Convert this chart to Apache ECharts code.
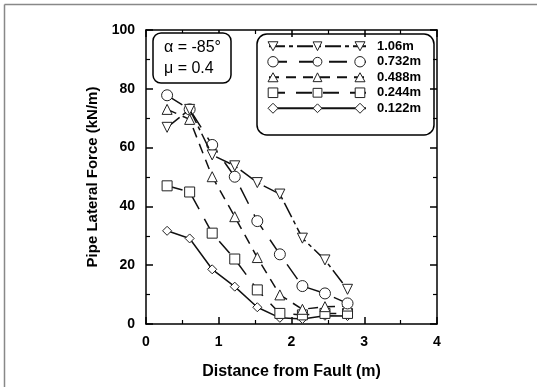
<!DOCTYPE html>
<html><head><meta charset="utf-8">
<script src="https://cdn.jsdelivr.net/npm/echarts@6/dist/echarts.min.js"></script>
<style>html,body{margin:0;padding:0;background:#fff}#c{width:537px;height:387px}</style>
</head><body><div id="c"></div>
<script>
const xValues = [0.29, 0.60, 0.91, 1.22, 1.53, 1.84, 2.15, 2.46, 2.77];
const seriesNames = ['1.06m', '0.732m', '0.488m', '0.244m', '0.122m'];
const s106 = [66.9, 73.0, 57.5, 53.8, 48.1, 44.2, 29.2, 21.8, 11.8];
const s0732 = [77.8, 73.0, 60.9, 50.1, 35.0, 23.7, 12.9, 10.4, 7.0];
const s0488 = [73.0, 69.6, 50.1, 36.5, 22.6, 9.9, 5.0, 5.9, 6.1];
const s0244 = [47.0, 44.9, 30.9, 22.1, 11.6, 3.6, 3.1, 3.6, 3.6];
const s0122 = [31.7, 29.1, 18.6, 12.7, 5.7, 2.1, 1.7, 2.8, 2.7];
const xTicks = [0, 1, 2, 3, 4];
const yTicks = [0, 20, 40, 60, 80, 100];
const xTitle = 'Distance from Fault (m)';
const yTitle = 'Pipe Lateral Force (kN/m)';

const values = [s106, s0732, s0488, s0244, s0122];
const symbols = ['triangle', 'circle', 'triangle', 'rect', 'diamond'];
const rotations = [180, 0, 0, 0, 0];
const dashes = [[16, 4, 4, 4], [18, 12], [10, 7], [16, 11], 'solid'];
const sizes = [10, 11, 10, 10, 9];
const FONT = '"Liberation Sans", Arial, sans-serif';

const series = values.map((v, i) => ({
  name: seriesNames[i],
  type: 'line',
  data: v.map((y, j) => [xValues[j], y]),
  symbol: symbols[i],
  symbolRotate: rotations[i],
  symbolSize: sizes[i],
  showAllSymbol: true,
  lineStyle: { color: '#111', width: 1.5, type: dashes[i] },
  itemStyle: { color: '#fff', borderColor: '#222', borderWidth: 1 },
  emphasis: { disabled: true },
  z: 10 - i
}));

const axisCommon = {
  axisLine: { show: true, onZero: false, lineStyle: { color: '#000', width: 1.5 } },
  axisTick: { show: true, inside: true, length: 7, lineStyle: { color: '#000', width: 1.5 } },
  minorTick: { show: true, splitNumber: 2, length: 4, lineStyle: { color: '#000', width: 1.2 } },
  splitLine: { show: false }
};

// legend layout (decoration only)
const LEG_LEFT = 268, LEG_TOP = 38.5, LEG_ROW = 15.5, LEG_W = 97;
function legendMarker(kind, x, y) {
  const st = { fill: '#fff', stroke: '#222', lineWidth: 1 };
  if (kind === 'triangle') return { type: 'polygon', shape: { points: [[x - 5, y + 4.5], [x + 5, y + 4.5], [x, y - 4.5]] }, style: st };
  if (kind === 'triangleDown') return { type: 'polygon', shape: { points: [[x - 5, y - 4.5], [x + 5, y - 4.5], [x, y + 4.5]] }, style: st };
  if (kind === 'circle') return { type: 'circle', shape: { cx: x, cy: y, r: 5.2 }, style: st };
  if (kind === 'rect') return { type: 'rect', shape: { x: x - 4.8, y: y - 4.8, width: 9.6, height: 9.6 }, style: st };
  return { type: 'polygon', shape: { points: [[x, y - 5], [x + 5, y], [x, y + 5], [x - 5, y]] }, style: st };
}
const legendKinds = ['triangleDown', 'circle', 'triangle', 'rect', 'diamond'];
const extraMarkers = [];
legendKinds.forEach((k, i) => {
  const cy = LEG_TOP + LEG_ROW / 2 + i * LEG_ROW;
  [LEG_LEFT + 5, LEG_LEFT + LEG_W - 5].forEach(cx => {
    const m = legendMarker(k, cx, cy);
    m.z = 120; m.silent = true;
    extraMarkers.push(m);
  });
});

const chart = echarts.init(document.getElementById('c'));
chart.setOption({
  animation: false,
  backgroundColor: '#fff',
  grid: { left: 146, right: 100, top: 30, bottom: 63 },
  xAxis: [
    Object.assign({}, axisCommon, {
      type: 'value', min: xTicks[0], max: xTicks[xTicks.length - 1], interval: 1,
      position: 'bottom',
      axisLabel: { color: '#000', fontFamily: FONT, fontWeight: 'bold', fontSize: 14, margin: 11 },
      name: xTitle, nameLocation: 'middle', nameGap: 40,
      nameTextStyle: { color: '#000', fontFamily: FONT, fontWeight: 'bold', fontSize: 16 }
    }),
    Object.assign({}, axisCommon, {
      type: 'value', min: xTicks[0], max: xTicks[xTicks.length - 1], interval: 1,
      position: 'top', axisLabel: { show: false }
    })
  ],
  yAxis: [
    Object.assign({}, axisCommon, {
      type: 'value', min: yTicks[0], max: yTicks[yTicks.length - 1], interval: 20,
      position: 'left',
      axisLabel: { color: '#000', fontFamily: FONT, fontWeight: 'bold', fontSize: 14, margin: 11 },
      name: yTitle, nameLocation: 'middle', nameGap: 38,
      nameTextStyle: { color: '#000', fontFamily: FONT, fontWeight: 'bold', fontSize: 15 }
    }),
    Object.assign({}, axisCommon, {
      type: 'value', min: yTicks[0], max: yTicks[yTicks.length - 1], interval: 20,
      position: 'right', axisLabel: { show: false }
    })
  ],
  legend: {
    orient: 'vertical', left: LEG_LEFT, top: LEG_TOP, padding: 0,
    itemWidth: LEG_W, itemHeight: 11, itemGap: 0,
    data: seriesNames,
    textStyle: { color: '#000', fontFamily: FONT, fontWeight: 'bold', fontSize: 13, lineHeight: LEG_ROW, padding: [0, 0, 0, 6] },
    itemStyle: { color: '#fff', borderColor: '#222', borderWidth: 1 }
  },
  graphic: [
    { type: 'line', shape: { x1: 4.5, y1: 4.5, x2: 537, y2: 4.5 }, style: { stroke: '#888', lineWidth: 1.5 }, silent: true },
    { type: 'line', shape: { x1: 4.5, y1: 4.5, x2: 4.5, y2: 387 }, style: { stroke: '#888', lineWidth: 1.5 }, silent: true },
    { type: 'rect', shape: { x: 257, y: 34, width: 177, height: 101, r: 10 }, style: { fill: 'none', stroke: '#000', lineWidth: 1.5 }, z: 100, silent: true },
    { type: 'rect', shape: { x: 153, y: 33, width: 78, height: 50, r: 8 }, style: { fill: '#fff', stroke: '#000', lineWidth: 1.5 }, z: 100, silent: true },
    { type: 'text', left: 164, top: 40, style: { text: 'α = -85°', fill: '#000', font: '16px ' + FONT }, z: 101, silent: true },
    { type: 'text', left: 164, top: 61, style: { text: 'μ = 0.4', fill: '#000', font: '16px ' + FONT }, z: 101, silent: true }
  ].concat(extraMarkers),
  series: series
});
</script>
</body></html>
